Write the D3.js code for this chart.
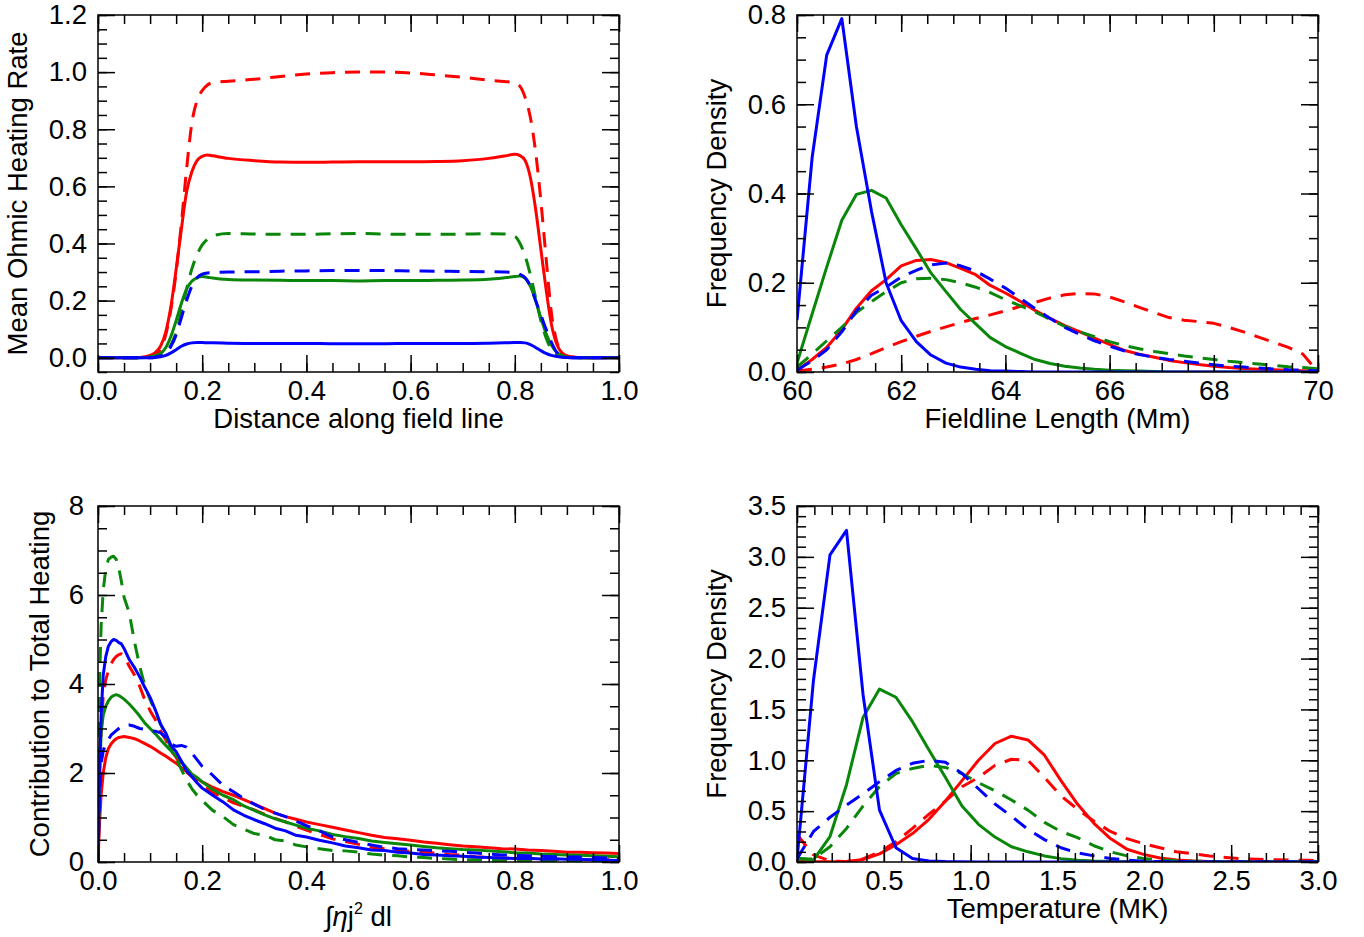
<!DOCTYPE html>
<html><head><meta charset="utf-8">
<script src="https://cdn.jsdelivr.net/npm/d3@7"></script>
<style>
body{margin:0;background:#fff}
svg text{font-family:"Liberation Sans",Arial,Helvetica,sans-serif;fill:#000}
</style>
</head><body>
<svg id="c" width="1364" height="937"></svg>
<script>
// ---------- Panel 1: Mean Ohmic Heating Rate vs distance ----------
const distance = [0,0.05,0.08, 0.10,0.11,0.12,0.13,0.14,0.15,0.16,0.17,0.18,0.19,0.20,0.21,0.22, 0.25,0.30,0.35,0.40,0.45,0.50,0.55,0.60,0.65,0.70,0.75, 0.78, 0.80,0.81,0.82,0.83,0.84,0.85,0.86,0.87,0.88,0.89,0.90, 0.92,0.95,1.0];
const heatRedSolid   = [0,0,0.001, 0.008,0.018,0.04,0.09,0.18,0.31,0.45,0.58,0.65,0.69,0.705,0.71,0.707, 0.698,0.69,0.685,0.684,0.685,0.686,0.686,0.686,0.687,0.69,0.698, 0.706, 0.712,0.708,0.69,0.63,0.52,0.38,0.24,0.12,0.05,0.018,0.006, 0.001,0,0];
const heatRedDashed  = [0,0,0, 0.003,0.01,0.03,0.08,0.17,0.30,0.47,0.66,0.82,0.90,0.935,0.955,0.963, 0.968,0.975,0.985,0.993,0.998,1.0,1.0,0.997,0.99,0.982,0.972, 0.967, 0.962,0.95,0.91,0.84,0.72,0.55,0.35,0.16,0.06,0.02,0.006, 0.001,0,0];
const heatGreenSolid = [0,0,0, 0.003,0.007,0.015,0.035,0.075,0.13,0.19,0.24,0.268,0.28,0.284,0.282,0.279, 0.274,0.272,0.271,0.27,0.27,0.269,0.27,0.27,0.271,0.272,0.275, 0.28, 0.284,0.286,0.278,0.25,0.2,0.14,0.085,0.045,0.02,0.008,0.003, 0,0,0];
const heatGreenDashed= [0,0,0, 0.002,0.005,0.01,0.02,0.045,0.09,0.16,0.24,0.31,0.36,0.395,0.415,0.427, 0.435,0.433,0.432,0.432,0.434,0.435,0.433,0.432,0.432,0.433,0.434, 0.433, 0.425,0.40,0.355,0.29,0.21,0.13,0.07,0.03,0.012,0.004,0.001, 0,0,0];
const heatBlueSolid  = [0,0,0, 0,0.001,0.003,0.008,0.017,0.028,0.04,0.048,0.052,0.053,0.053,0.052,0.052, 0.051,0.05,0.05,0.05,0.049,0.049,0.049,0.05,0.05,0.05,0.051, 0.052, 0.053,0.053,0.052,0.046,0.036,0.025,0.015,0.008,0.004,0.002,0.001, 0,0,0];
const heatBlueDashed = [0,0,0, 0,0.002,0.006,0.015,0.04,0.08,0.14,0.2,0.25,0.28,0.293,0.297,0.298, 0.3,0.301,0.303,0.304,0.305,0.305,0.305,0.304,0.303,0.302,0.301, 0.3, 0.298,0.292,0.28,0.25,0.2,0.15,0.1,0.055,0.02,0.006,0.001, 0,0,0];
const heatXTicks = [0,0.2,0.4,0.6,0.8,1.0];
const heatYTicks = [0,0.2,0.4,0.6,0.8,1.0,1.2];

// ---------- Panel 2: Frequency density vs fieldline length ----------
const lengthMm = [60.0,60.29,60.57,60.86,61.14,61.43,61.71,62.0,62.29,62.57,62.86,63.14,63.43,63.71,64.0,64.29,64.57,64.86,65.14,65.43,65.71,66.0,66.29,66.57,66.86,67.14,67.43,67.71,68.0,68.29,68.57,68.86,69.14,69.43,69.71,70.0];
const lenBlueSolid   = [0.116,0.48,0.71,0.792,0.55,0.36,0.2,0.115,0.068,0.038,0.02,0.011,0.006,0.003,0.002,0.001,0,0,0,0,0,0,0,0,0,0,0,0,0,0,0,0,0,0,0,0];
const lenGreenSolid  = [0.02,0.13,0.235,0.34,0.398,0.407,0.39,0.33,0.276,0.222,0.18,0.14,0.108,0.077,0.057,0.042,0.028,0.019,0.013,0.009,0.006,0.004,0.003,0.002,0.001,0,0,0,0,0,0,0,0,0,0,0];
const lenRedSolid    = [0.004,0.028,0.055,0.095,0.143,0.182,0.207,0.238,0.25,0.252,0.245,0.232,0.218,0.194,0.177,0.158,0.138,0.12,0.104,0.09,0.076,0.062,0.048,0.04,0.033,0.026,0.021,0.017,0.013,0.01,0.008,0.006,0.005,0.004,0.003,0.002];
const lenBlueDashed  = [0.004,0.025,0.05,0.09,0.137,0.172,0.19,0.213,0.228,0.24,0.244,0.238,0.226,0.208,0.188,0.165,0.142,0.12,0.1,0.084,0.07,0.058,0.047,0.039,0.033,0.028,0.024,0.02,0.016,0.013,0.011,0.009,0.007,0.005,0.004,0.002];
const lenGreenDashed = [0.011,0.04,0.07,0.1,0.133,0.158,0.18,0.2,0.209,0.21,0.207,0.2,0.19,0.178,0.162,0.148,0.135,0.118,0.102,0.09,0.079,0.068,0.059,0.052,0.046,0.041,0.036,0.032,0.028,0.024,0.021,0.018,0.015,0.012,0.01,0.007];
const lenRedDashed   = [0.002,0.006,0.011,0.018,0.028,0.041,0.055,0.068,0.08,0.091,0.101,0.111,0.12,0.128,0.137,0.147,0.156,0.166,0.173,0.176,0.175,0.168,0.157,0.145,0.133,0.122,0.116,0.113,0.109,0.1,0.09,0.078,0.067,0.055,0.04,0.0];
const lenXTicks = [60,62,64,66,68,70];
const lenYTicks = [0,0.2,0.4,0.6,0.8];

// ---------- Panel 3: Contribution to total heating ----------
const heatInt = [0,0.003,0.006,0.01,0.015,0.02,0.025,0.03,0.035,0.04,0.045,0.05, 0.06,0.07,0.08,0.09,0.10,0.11,0.12,0.13,0.14,0.15,0.16,0.17,0.18,0.19,0.20, 0.22,0.24,0.26,0.28,0.30,0.32,0.34,0.36,0.38,0.40, 0.425,0.45,0.475,0.50,0.525,0.55,0.575,0.60,0.625,0.65,0.675,0.70,0.725,0.75,0.775,0.80,0.825,0.85,0.875,0.90,0.925,0.95,0.975,1.0];
const contRedSolid    = [0,0.9,1.5,2.0,2.35,2.55,2.65,2.72,2.77,2.8,2.81,2.82, 2.8,2.77,2.72,2.66,2.6,2.53,2.45,2.38,2.3,2.22,2.12,2.03,1.95,1.88,1.8, 1.68,1.58,1.5,1.4,1.3,1.2,1.1,1.02,0.96,0.9, 0.84,0.78,0.72,0.66,0.6,0.55,0.52,0.49,0.45,0.42,0.39,0.36,0.34,0.32,0.3,0.29,0.27,0.26,0.24,0.22,0.22,0.21,0.2,0.19];
const contRedDashed   = [0,1.8,2.9,3.75,4.1,4.3,4.45,4.55,4.62,4.66,4.68,4.62, 4.4,4.2,3.95,3.64,3.4,3.2,2.95,2.75,2.5,2.35,2.15,2.02,1.92,1.82,1.72, 1.56,1.45,1.33,1.25,1.17,1.07,0.98,0.9,0.8,0.72, 0.62,0.52,0.46,0.4,0.33,0.3,0.26,0.24,0.22,0.2,0.17,0.15,0.12,0.1,0.09,0.08,0.075,0.07,0.065,0.06,0.055,0.05,0.05,0.05];
const contGreenSolid  = [0,1.8,2.9,3.3,3.5,3.62,3.7,3.74,3.76,3.74,3.7,3.66, 3.55,3.42,3.28,3.12,3.0,2.88,2.75,2.62,2.5,2.38,2.25,2.12,1.98,1.9,1.8, 1.63,1.5,1.4,1.26,1.16,1.06,0.97,0.9,0.83,0.76, 0.7,0.62,0.57,0.53,0.47,0.44,0.41,0.38,0.35,0.32,0.3,0.28,0.27,0.25,0.23,0.21,0.2,0.18,0.17,0.16,0.15,0.14,0.13,0.12];
const contGreenDashed = [0,4.1,5.3,6.1,6.6,6.8,6.85,6.87,6.8,6.6,6.3,5.95, 5.6,4.95,4.4,3.95,3.65,3.38,3.1,2.85,2.55,2.32,2.08,1.84,1.65,1.5,1.38, 1.16,1.02,0.84,0.74,0.64,0.6,0.5,0.47,0.38,0.34, 0.3,0.26,0.25,0.22,0.18,0.15,0.14,0.11,0.1,0.08,0.07,0.05,0.05,0.04,0.03,0.02,0.02,0.015,0.01,0.01,0.008,0.01,0.005,0.005];
const contBlueSolid   = [0,2.1,3.3,4.2,4.62,4.85,4.95,5.0,4.98,4.93,4.9,4.8, 4.55,4.37,4.16,3.92,3.7,3.42,3.1,2.9,2.62,2.48,2.27,2.05,1.92,1.78,1.66, 1.5,1.35,1.17,1.05,0.95,0.86,0.76,0.7,0.6,0.56, 0.49,0.43,0.36,0.32,0.27,0.26,0.22,0.2,0.17,0.16,0.14,0.13,0.11,0.1,0.09,0.08,0.085,0.07,0.075,0.06,0.06,0.05,0.045,0.03];
const contBlueDashed  = [0,1.5,2.2,2.5,2.65,2.75,2.85,2.9,2.95,3.0,3.05,3.07, 3.08,3.05,3.0,2.98,2.95,2.94,2.9,2.8,2.65,2.6,2.62,2.58,2.45,2.3,2.15, 1.95,1.72,1.58,1.42,1.3,1.18,1.1,1.02,0.92,0.82, 0.7,0.56,0.5,0.44,0.38,0.33,0.3,0.28,0.27,0.25,0.24,0.22,0.2,0.18,0.16,0.15,0.14,0.13,0.12,0.11,0.11,0.1,0.09,0.07];
const contXTicks = [0,0.2,0.4,0.6,0.8,1.0];
const contYTicks = [0,2,4,6,8];

// ---------- Panel 4: Frequency density vs temperature ----------
const tempMK = [0,0.095,0.19,0.285,0.38,0.475,0.57,0.665,0.76,0.855,0.95,1.045,1.14,1.235,1.33,1.425,1.52,1.615,1.71,1.805,1.9,1.995,2.09,2.185,2.28,2.375,2.47,2.565,2.66,2.755,2.85,2.945,3.0];
const tBlueSolid   = [0.02,1.79,3.02,3.26,1.65,0.51,0.14,0.035,0.01,0.004,0.002,0.001,0,0,0,0,0,0,0,0,0,0,0,0,0,0,0,0,0,0,0,0,0];
const tGreenSolid  = [0.04,0.02,0.25,0.76,1.42,1.70,1.62,1.38,1.1,0.83,0.55,0.37,0.245,0.15,0.1,0.06,0.033,0.018,0.01,0.006,0.003,0.002,0.001,0,0,0,0,0,0,0,0,0,0];
const tRedSolid    = [0.02,0.005,0.002,0.005,0.025,0.08,0.17,0.28,0.42,0.6,0.8,1.0,1.165,1.237,1.2,1.05,0.8,0.57,0.38,0.23,0.125,0.075,0.04,0.02,0.01,0.006,0.004,0.003,0.002,0.002,0.001,0.001,0.001];
const tRedDashed   = [0.27,0.07,0.01,0.005,0.03,0.1,0.2,0.33,0.47,0.6,0.74,0.83,0.95,1.01,1.0,0.83,0.65,0.52,0.4,0.3,0.23,0.18,0.14,0.1,0.08,0.06,0.045,0.032,0.026,0.022,0.02,0.016,0.015];
const tBlueDashed  = [0.03,0.3,0.44,0.56,0.67,0.79,0.9,0.97,1.0,0.98,0.87,0.72,0.57,0.45,0.32,0.22,0.14,0.09,0.06,0.035,0.018,0.008,0.004,0.002,0.001,0,0,0,0,0,0,0,0];
const tGreenDashed = [0.03,0.03,0.15,0.33,0.55,0.74,0.87,0.92,0.95,0.93,0.87,0.78,0.7,0.61,0.51,0.39,0.3,0.24,0.16,0.1,0.06,0.035,0.022,0.013,0.008,0.005,0.003,0.002,0.001,0.001,0.001,0,0];
const tempXTicks = [0,0.5,1.0,1.5,2.0,2.5,3.0];
const tempYTicks = [0,0.5,1.0,1.5,2.0,2.5,3.0,3.5];

// ---------- drawing ----------
const RED = "#ff0000", GREEN = "#0a870a", BLUE = "#0000ff";
const TICKFONT = 27.5, TITLEFONT = 27.5;
const svg = d3.select("#c");

function range(a, b, step) { const out = []; for (let v = a; v <= b + step * 1e-6; v += step) out.push(+v.toFixed(6)); return out; }

function panel(cfg) {
  const {id, x0, x1, y0, y1, xDomain, yDomain, xTicks, yTicks, xMinorStep, yMinorStep, xFmt, yFmt, series, curve} = cfg;
  const x = d3.scaleLinear().domain(xDomain).range([x0, x1]);
  const y = d3.scaleLinear().domain(yDomain).range([y1, y0]);
  const g = svg.append("g");
  g.append("clipPath").attr("id", id).append("rect")
    .attr("x", x0).attr("y", y0).attr("width", x1 - x0).attr("height", y1 - y0);
  const lg = g.append("g").attr("clip-path", `url(#${id})`);
  series.forEach(s => {
    const line = d3.line().x((d, i) => x(s.x[i])).y(d => y(d)).curve(curve);
    lg.append("path").datum(s.y).attr("d", line)
      .attr("fill", "none").attr("stroke", s.color).attr("stroke-width", 3)
      .attr("stroke-linejoin", "round")
      .attr("stroke-dasharray", s.dash ? "15,10" : null);
  });
  const xMinor = range(xDomain[0], xDomain[1], xMinorStep);
  const yMinor = range(Math.ceil(yDomain[0] / yMinorStep) * yMinorStep, yDomain[1], yMinorStep);
  function axis(gen, tr, vals, size, fmt, pad) {
    const a = g.append("g").attr("transform", tr)
      .call(gen.tickValues(vals).tickSize(size).tickPadding(pad).tickFormat(fmt));
    a.select(".domain").remove();
    a.attr("font-size", TICKFONT).attr("font-family", null);
    a.selectAll("line").attr("stroke", "#000").attr("stroke-width", 1.5);
    return a;
  }
  axis(d3.axisBottom(x), `translate(0,${y1})`, xMinor, -9, "", 0);
  axis(d3.axisBottom(x), `translate(0,${y1})`, xTicks, -17, xFmt, 8);
  axis(d3.axisTop(x), `translate(0,${y0})`, xMinor, -9, "", 0);
  axis(d3.axisTop(x), `translate(0,${y0})`, xTicks, -17, "", 0);
  axis(d3.axisLeft(y), `translate(${x0},0)`, yMinor, -9, "", 0);
  axis(d3.axisLeft(y), `translate(${x0},0)`, yTicks, -17, yFmt, cfg.yPad || 11);
  axis(d3.axisRight(y), `translate(${x1},0)`, yMinor, -9, "", 0);
  axis(d3.axisRight(y), `translate(${x1},0)`, yTicks, -17, "", 0);
  g.append("rect").attr("x", x0).attr("y", y0).attr("width", x1 - x0).attr("height", y1 - y0)
    .attr("fill", "none").attr("stroke", "#000").attr("stroke-width", 1.5);
  const xt = g.append("text").attr("x", (x0 + x1) / 2).attr("y", cfg.xTitleY)
    .attr("text-anchor", "middle").attr("font-size", TITLEFONT);
  if (cfg.xTitleFn) cfg.xTitleFn(xt); else xt.text(cfg.xTitle);
  g.append("text").attr("transform", `translate(${cfg.yTitleX},${(y0 + y1) / 2}) rotate(-90)`)
    .attr("text-anchor", "middle").attr("font-size", TITLEFONT).text(cfg.yTitle);
}

const f1 = d3.format(".1f"), f0 = d3.format("d");

panel({
  id: "clip1", x0: 98, x1: 619, y0: 15, y1: 372,
  xDomain: [0, 1], yDomain: [-0.05, 1.2], xTicks: heatXTicks, yTicks: heatYTicks,
  xMinorStep: 0.05, yMinorStep: 0.05, xFmt: f1, yFmt: f1, curve: d3.curveMonotoneX,
  xTitle: "Distance along field line", xTitleY: 428, yTitle: "Mean Ohmic Heating Rate", yTitleX: 27,
  series: [
    {x: distance, y: heatRedDashed, color: RED, dash: true},
    {x: distance, y: heatRedSolid, color: RED},
    {x: distance, y: heatGreenDashed, color: GREEN, dash: true},
    {x: distance, y: heatGreenSolid, color: GREEN},
    {x: distance, y: heatBlueDashed, color: BLUE, dash: true},
    {x: distance, y: heatBlueSolid, color: BLUE}
  ]
});

panel({
  id: "clip2", x0: 797, x1: 1318, y0: 15, y1: 372,
  xDomain: [60, 70], yDomain: [0, 0.8], xTicks: lenXTicks, yTicks: lenYTicks,
  xMinorStep: 0.5, yMinorStep: 0.05, xFmt: f0, yFmt: f1, curve: d3.curveLinear,
  xTitle: "Fieldline Length (Mm)", xTitleY: 428, yTitle: "Frequency Density", yTitleX: 726,
  series: [
    {x: lengthMm, y: lenRedDashed, color: RED, dash: true},
    {x: lengthMm, y: lenRedSolid, color: RED},
    {x: lengthMm, y: lenGreenDashed, color: GREEN, dash: true},
    {x: lengthMm, y: lenGreenSolid, color: GREEN},
    {x: lengthMm, y: lenBlueDashed, color: BLUE, dash: true},
    {x: lengthMm, y: lenBlueSolid, color: BLUE}
  ]
});

panel({
  id: "clip3", x0: 98, x1: 619, y0: 506, y1: 862,
  xDomain: [0, 1], yDomain: [0, 8], xTicks: contXTicks, yTicks: contYTicks,
  xMinorStep: 0.05, yMinorStep: 0.5, xFmt: f1, yFmt: f0, curve: d3.curveLinear, yPad: 14,
  xTitleY: 926, yTitle: "Contribution to Total Heating", yTitleX: 49,
  xTitleFn: t => {
    t.append("tspan").attr("font-style", "italic").text("\u222B\u03B7");
    t.append("tspan").text("j");
    t.append("tspan").attr("font-size", 16).attr("dy", -12).text("2");
    t.append("tspan").attr("dy", 12).text(" dl");
  },
  series: [
    {x: heatInt, y: contRedDashed, color: RED, dash: true},
    {x: heatInt, y: contRedSolid, color: RED},
    {x: heatInt, y: contGreenDashed, color: GREEN, dash: true},
    {x: heatInt, y: contGreenSolid, color: GREEN},
    {x: heatInt, y: contBlueDashed, color: BLUE, dash: true},
    {x: heatInt, y: contBlueSolid, color: BLUE}
  ]
});

panel({
  id: "clip4", x0: 797, x1: 1318, y0: 506, y1: 862,
  xDomain: [0, 3], yDomain: [0, 3.5], xTicks: tempXTicks, yTicks: tempYTicks,
  xMinorStep: 0.1, yMinorStep: 0.1, xFmt: f1, yFmt: f1, curve: d3.curveLinear,
  xTitle: "Temperature (MK)", xTitleY: 918, yTitle: "Frequency Density", yTitleX: 726,
  series: [
    {x: tempMK, y: tRedDashed, color: RED, dash: true},
    {x: tempMK, y: tRedSolid, color: RED},
    {x: tempMK, y: tGreenDashed, color: GREEN, dash: true},
    {x: tempMK, y: tGreenSolid, color: GREEN},
    {x: tempMK, y: tBlueDashed, color: BLUE, dash: true},
    {x: tempMK, y: tBlueSolid, color: BLUE}
  ]
});
</script>
</body></html>
